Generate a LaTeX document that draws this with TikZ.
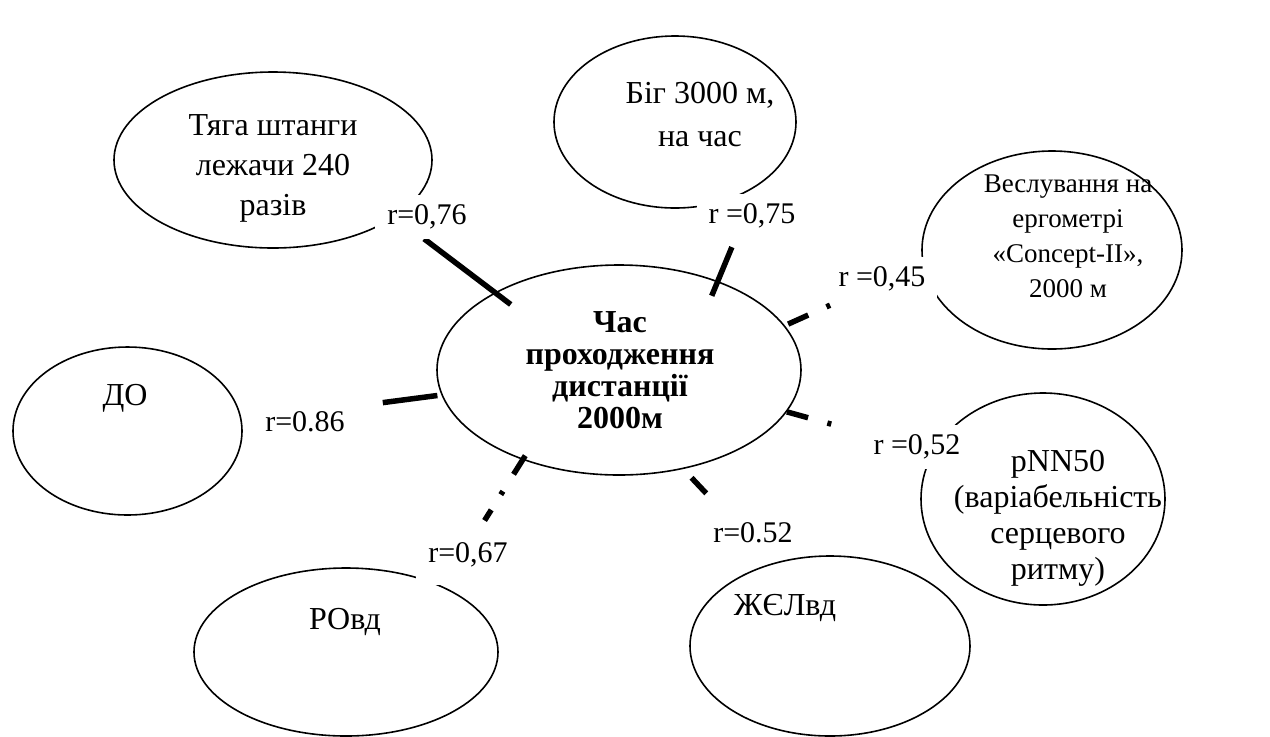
\documentclass[tikz,border=0pt]{standalone}
\usepackage{fontspec}
\setmainfont{Liberation Serif}
\usetikzlibrary{shapes.geometric}
\tikzset{
  oval/.style={ellipse, draw, line width=0.8pt, inner sep=0},
  txt/.style={align=center, inner sep=0, font=\fontsize{16}{21.5}\selectfont},
  corr/.style={fill=white, inner xsep=6pt, inner ysep=5pt, font=\fontsize{15}{18}\selectfont},
  link/.style={line width=2.75pt},
  weak/.style={link, dash pattern=on 11pt off 10pt on 2pt off 9pt}
}
\begin{document}
\begin{tikzpicture}[x=0.5pt, y=-0.5pt]
    \useasboundingbox (0,0) rectangle (1270,736);
    % ovals
    \node[oval, minimum width=182pt, minimum height=105pt] (chas) at (619,370) {};
    \node[oval, minimum width=159pt, minimum height=88pt] (tyaha) at (273,160) {};
    \node[oval, minimum width=121pt, minimum height=86pt] (big) at (675,122) {};
    \node[oval, minimum width=130pt, minimum height=99pt] (vesl) at (1052,250) {};
    \node[oval, minimum width=114.5pt, minimum height=84pt] (do) at (127.5,431) {};
    \node[oval, minimum width=122pt, minimum height=106pt] (pnn) at (1043,499) {};
    \node[oval, minimum width=152pt, minimum height=84pt] (rovd) at (346,652) {};
    \node[oval, minimum width=140pt, minimum height=90pt] (zhel) at (830,646) {};
    % texts
    \node[txt, font=\bfseries\fontsize{16}{16}\selectfont] (chastext) at (620,370) {Час\\проходження\\дистанції\\2000м};
    \node[txt, font=\fontsize{16}{20}\selectfont] (tyahatext) at (273,168) {Тяга штанги\\лежачи 240\\разів};
    \node[txt] (bigtext) at (700,115) {Біг 3000 м,\\на час};
    \node[txt, font=\fontsize{13.5}{17.5}\selectfont] (vesltext) at (1068,236) {Веслування на\\ергометрі\\«Concept-II»,\\2000 м};
    \node[txt] (dotext) at (125,398) {ДО};
    \node[txt, font=\fontsize{16}{18}\selectfont] (pnntext) at (1058,518) {pNN50\\(варіабельність\\серцевого\\ритму)};
    \node[txt] (rovdtext) at (345,622) {РОвд};
    \node[txt] (zheltext) at (785,608) {ЖЄЛвд};
    % links
    \draw[link, shorten <=-10pt, shorten >=18pt] (chas.148) -- (tyaha.-25);
    \draw[link, shorten <=-8pt, shorten >=33pt] (chas.42) -- (big.-38);
    \draw[weak, shorten <=1.8pt, shorten >=48pt] (chas.15) -- (vesl.186);
    \draw[link, shorten <=2pt, shorten >=71pt] (chas.188) -- (do.5);
    \draw[weak, shorten >=45pt] (chas.-14) -- (pnn.157);
    \draw[weak, shorten <=6pt, shorten >=48pt] (chas.-57) -- (zhel.125);
    \draw[weak, shorten <=-2.5pt, shorten >=39pt] (chas.223) -- (rovd.34);
    % labels
    \node[corr] (r76) at (427,217) {r=0,76};
    \node[corr] (r75) at (752,216) {r =0,75};
    \node[corr] (r45) at (882,279) {r =0,45};
    \node[corr] (r86) at (305,422) {r=0.86};
    \node[corr] (r52a) at (917,447) {r =0,52};
    \node[corr] (r52b) at (753,533) {r=0.52};
    \node[corr, inner ysep=9pt] (r67) at (468,555) {r=0,67};
\end{tikzpicture}
\end{document}
